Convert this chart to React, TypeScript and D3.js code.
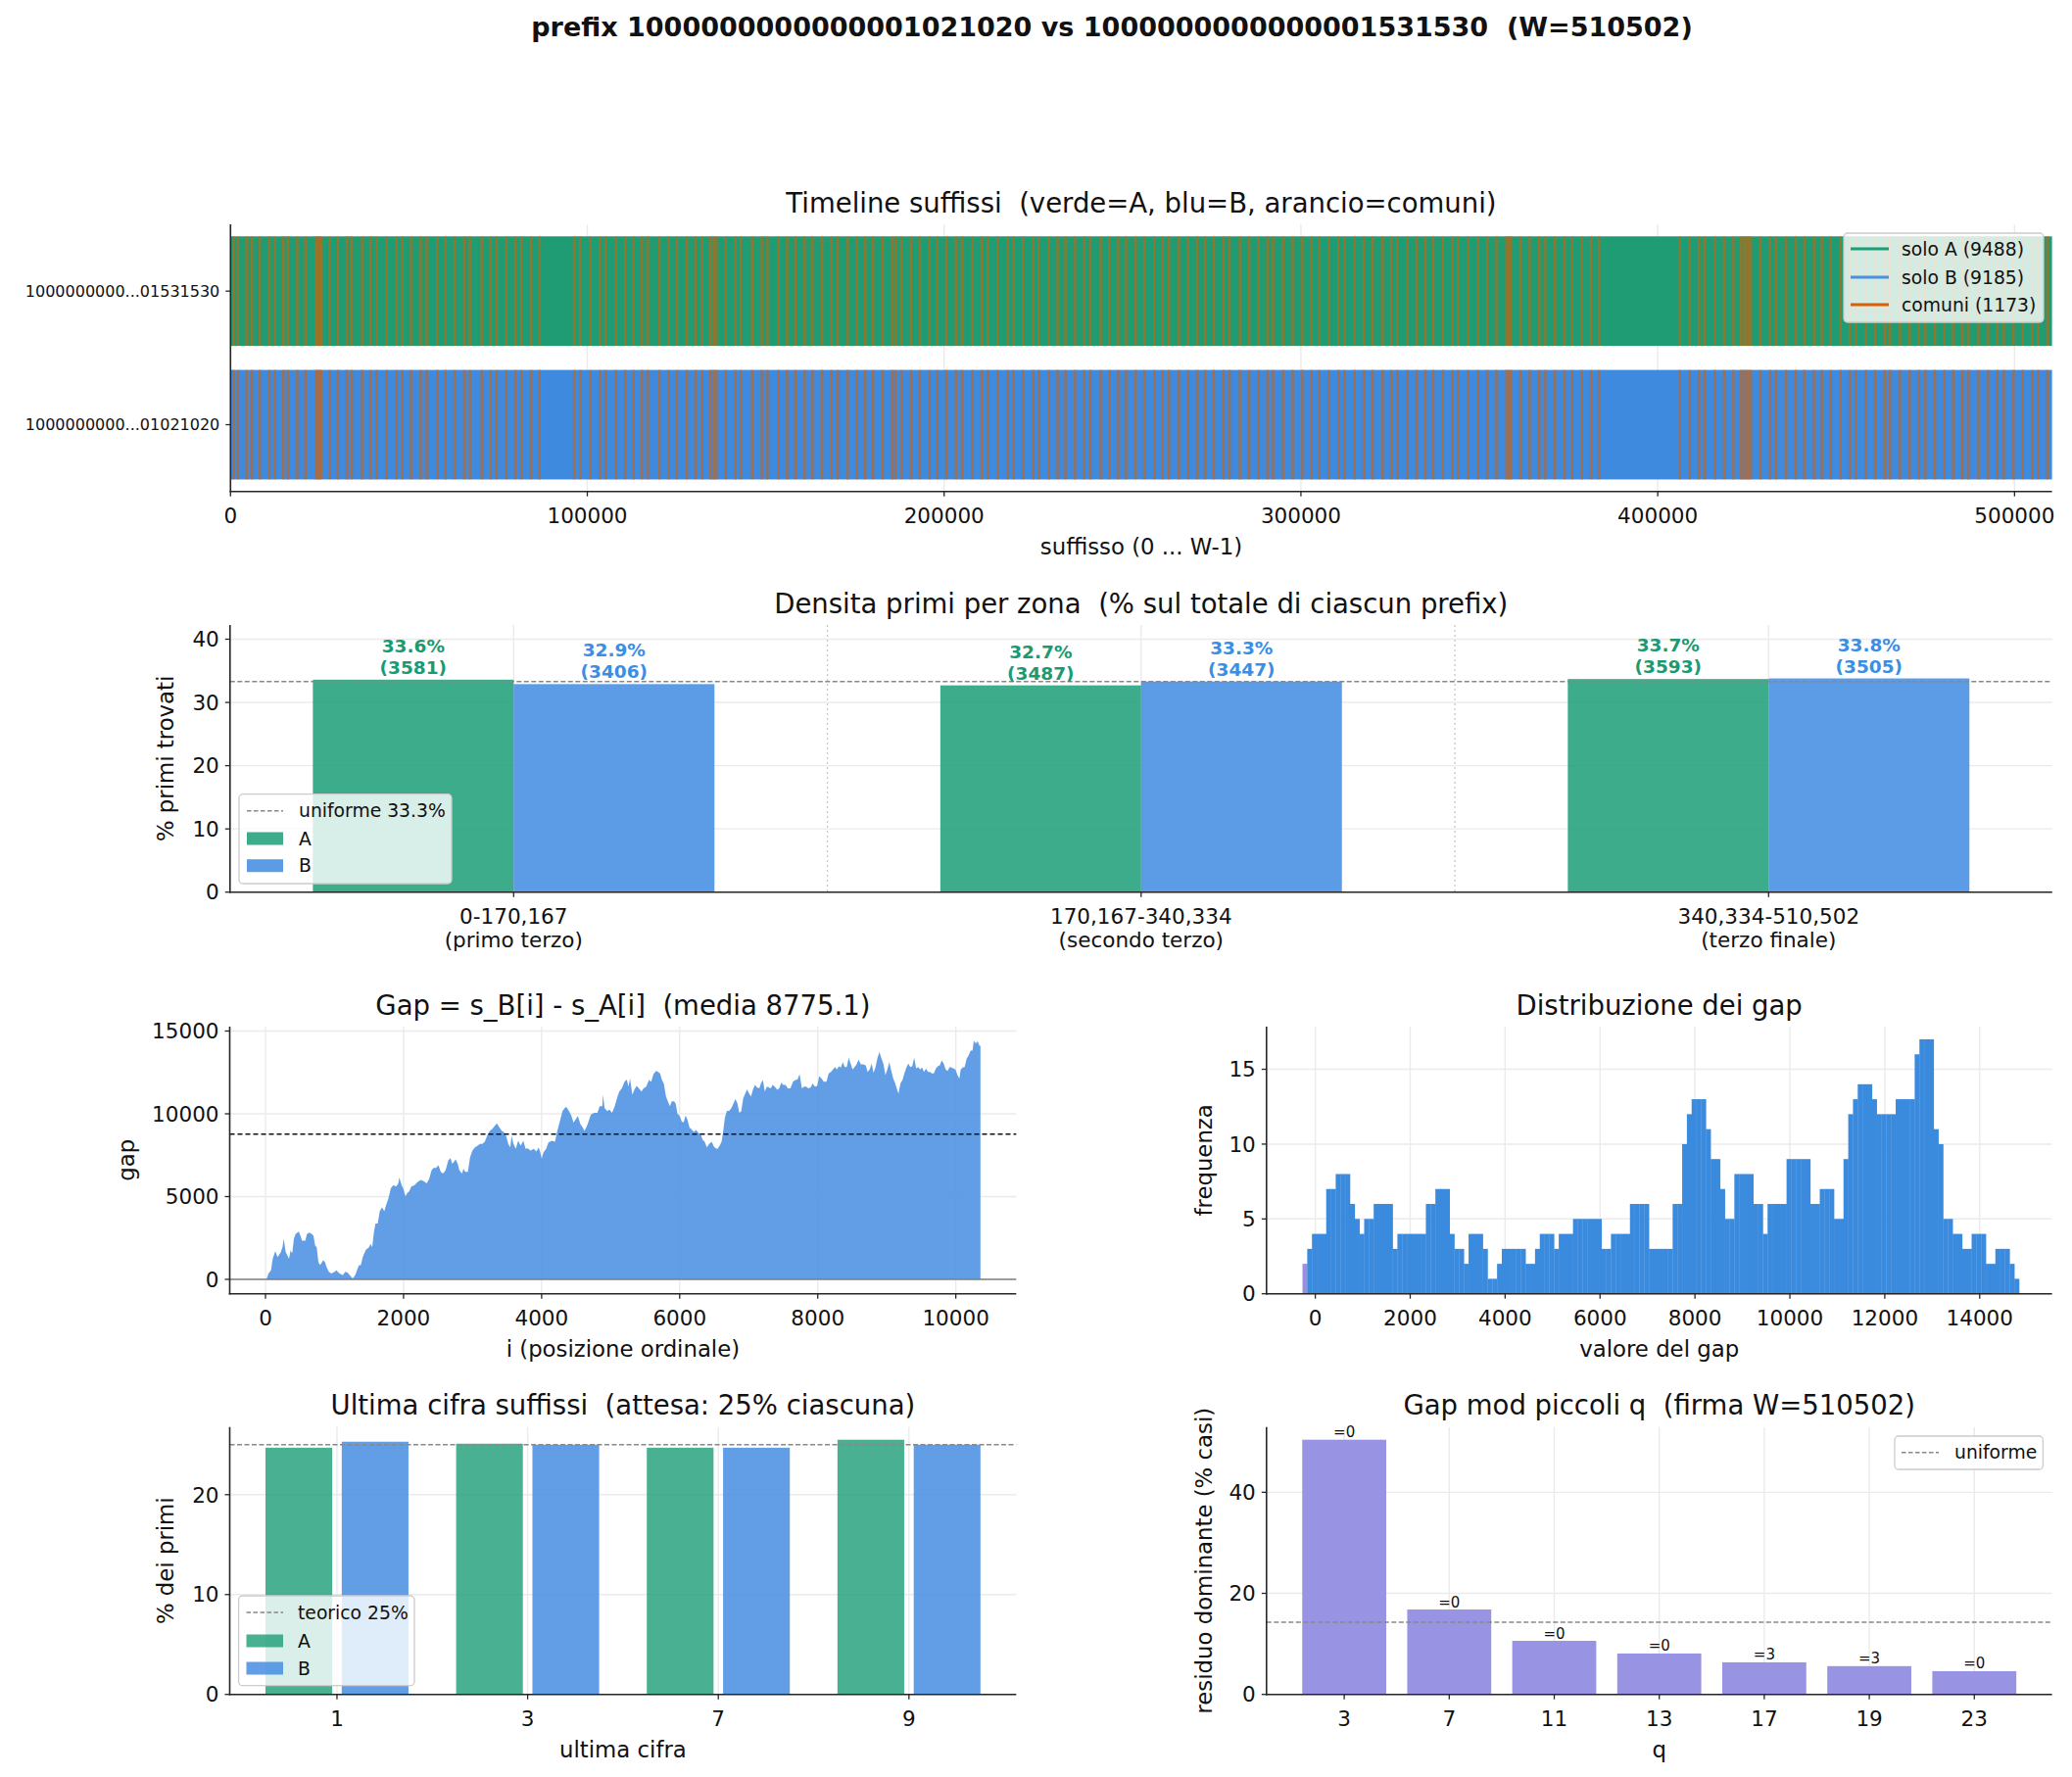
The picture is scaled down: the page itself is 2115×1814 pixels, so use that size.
import React, { useEffect } from 'react';
import * as d3 from 'd3';

if (typeof document !== 'undefined') document.body.style.margin = '0';

const FONT = "'DejaVu Sans', sans-serif";
const INK = '#111111';
const SPINE = '#262626';
const GRID = '#ebebeb';
const GREEN = '#1b9e77';
const BLUE = '#4a90e2';
const ORANGE = '#d95f02';

// ---------------- data ----------------
const suptitle = 'prefix 1000000000000001021020 vs 1000000000000001531530  (W=510502)';
const W = 510502;
const timelineRows = ['1000000000...01021020', '1000000000...01531530'];
const timelineXTicks = [0, 100000, 200000, 300000, 400000, 500000];
const legendNames = ['solo A', 'solo B', 'comuni'];
const legendCounts = [9488, 9185, 1173];
// positions (in thousands) of the shared suffixes drawn as orange strokes
const comuniK = [0.8, 2.1, 4.5, 6.0, 8.2, 10.9, 12.5, 14.8, 16.1, 18.7, 21.0, 23.9, 24.4, 24.9, 25.4, 27.8, 30.1, 32.6, 34.0, 36.9, 39.2, 41.0, 43.8, 46.5, 48.1, 50.6, 53.3, 55.0, 57.9, 60.2, 62.8, 65.5, 67.1, 70.4, 72.9, 74.6, 77.3, 79.8, 81.5, 84.2, 86.6, 96.3, 98.0, 100.8, 103.5, 105.1, 108.0, 110.6, 112.9, 115.3, 117.0, 120.2, 122.8, 125.1, 127.9, 130.3, 132.2, 134.5, 135.4, 136.2, 138.8, 141.5, 143.0, 146.2, 148.9, 150.5, 153.6, 156.0, 158.3, 160.9, 163.1, 165.8, 168.4, 170.2, 173.0, 175.6, 177.9, 180.1, 182.8, 185.4, 186.3, 188.0, 190.7, 193.2, 195.9, 198.1, 200.6, 203.3, 205.0, 207.9, 210.5, 212.2, 215.0, 217.8, 219.4, 222.1, 224.9, 226.5, 229.3, 231.8, 234.0, 236.7, 239.2, 241.0, 243.9, 246.3, 248.8, 251.0, 253.7, 256.1, 258.9, 261.2, 263.0, 265.8, 268.4, 270.9, 273.1, 275.6, 278.3, 280.0, 282.9, 285.5, 288.1, 290.6, 292.2, 295.0, 297.7, 300.4, 302.9, 305.1, 307.8, 310.5, 312.2, 315.0, 317.6, 320.1, 322.9, 325.3, 327.0, 329.8, 332.4, 334.9, 337.1, 339.8, 342.5, 344.0, 346.9, 349.6, 352.2, 354.8, 357.6, 358.2, 358.9, 361.5, 364.1, 366.8, 368.5, 371.2, 373.9, 376.0, 378.7, 381.3, 383.5, 406.2, 408.9, 411.5, 413.1, 416.0, 418.6, 421.2, 423.3, 424.0, 424.7, 425.4, 426.1, 428.8, 431.5, 433.2, 436.0, 438.7, 441.1, 443.8, 446.0, 448.5, 451.2, 453.8, 455.5, 458.3, 460.9, 463.6, 465.1, 467.9, 470.6, 473.2, 475.0, 477.7, 480.3, 482.8, 485.4, 487.1, 489.9, 492.6, 495.2, 497.0, 499.7, 502.3, 504.9, 506.6, 509.2];

const zoneRanges = ['0-170,167', '170,167-340,334', '340,334-510,502'];
const zoneNames = ['(primo terzo)', '(secondo terzo)', '(terzo finale)'];
const densA = [33.6, 32.7, 33.7];
const densAcount = [3581, 3487, 3593];
const densB = [32.9, 33.3, 33.8];
const densBcount = [3406, 3447, 3505];
const densUniform = 33.3;
const densYTicks = [0, 10, 20, 30, 40];

const gapMean = 8775.1;
const gapXTicks = [0, 2000, 4000, 6000, 8000, 10000];
const gapYTicks = [0, 5000, 10000, 15000];
const gapSeries: [number, number][] = [[14,0],[43,356],[80,554],[104,1247],[142,1703],[175,1346],[222,1643],[246,1940],[265,2435],[293,1643],[317,1445],[340,1247],[364,1742],[388,1584],[411,2435],[435,2732],[482,2891],[506,2633],[530,2336],[577,2336],[600,2732],[634,2831],[671,2732],[695,2633],[719,2039],[742,1940],[766,1049],[790,851],[837,1148],[861,1049],[884,752],[917,455],[955,356],[1002,455],[1026,554],[1073,356],[1121,257],[1154,455],[1191,396],[1239,158],[1262,59],[1286,158],[1310,356],[1333,653],[1357,851],[1381,851],[1409,1346],[1452,1782],[1499,1940],[1522,2138],[1546,1940],[1570,2831],[1593,3366],[1626,3366],[1655,4118],[1688,4356],[1721,4118],[1749,4514],[1782,4910],[1816,5504],[1853,5702],[1891,5603],[1924,5801],[1938,6158],[1972,5702],[1995,5504],[2028,5009],[2052,5207],[2080,5306],[2113,5603],[2161,5702],[2208,5900],[2255,5999],[2303,5900],[2336,5801],[2373,6098],[2407,6593],[2435,6732],[2468,6732],[2506,6890],[2539,6494],[2572,6395],[2610,6593],[2648,7187],[2681,7326],[2704,6989],[2728,7088],[2752,7247],[2785,6989],[2808,6593],[2846,6395],[2870,6692],[2893,6494],[2931,6494],[2964,7385],[2998,7781],[3035,7979],[3073,8078],[3106,8177],[3139,8177],[3177,8316],[3210,8672],[3248,8969],[3281,9068],[3319,9266],[3352,9425],[3390,9167],[3423,8969],[3451,8910],[3485,8672],[3518,8177],[3546,7979],[3565,8672],[3593,8177],[3626,7880],[3660,8375],[3697,8078],[3735,8375],[3768,7880],[3801,7920],[3839,7781],[3886,7880],[3924,7722],[3957,7979],[3981,7682],[4000,7286],[4028,7682],[4066,7880],[4099,8276],[4146,8375],[4194,8316],[4227,8969],[4265,9563],[4302,10157],[4336,10355],[4359,10415],[4397,10157],[4430,9900],[4463,9464],[4492,9662],[4525,9860],[4563,9365],[4596,9167],[4619,8969],[4657,9266],[4681,9563],[4714,9959],[4761,10058],[4808,10058],[4841,10454],[4879,10454],[4889,11147],[4912,10355],[4950,10157],[4983,10256],[5021,10058],[5059,10454],[5092,10949],[5125,11345],[5163,11543],[5201,11939],[5234,12078],[5258,11642],[5281,12137],[5314,11147],[5343,11444],[5376,11682],[5409,11543],[5447,11345],[5478,11543],[5516,11642],[5554,12038],[5587,11939],[5620,12395],[5658,12593],[5687,12533],[5715,12434],[5744,12038],[5772,11801],[5801,11048],[5829,10751],[5858,10454],[5886,10751],[5919,10751],[5943,10613],[5967,10019],[6000,9860],[6028,9563],[6057,9464],[6085,9900],[6114,9623],[6142,9167],[6171,9068],[6204,8910],[6237,9029],[6275,8831],[6304,8771],[6332,8435],[6361,8316],[6394,7979],[6427,8177],[6465,8316],[6493,8039],[6522,7920],[6550,7880],[6579,8078],[6607,8316],[6631,8969],[6655,9761],[6683,10157],[6721,10197],[6750,10355],[6778,10613],[6807,10890],[6835,10652],[6864,10058],[6892,10157],[6921,10949],[6949,11207],[6977,11484],[7006,11207],[7034,11048],[7063,11484],[7091,11741],[7120,11603],[7153,11543],[7177,11840],[7205,12038],[7234,11345],[7262,11642],[7291,11603],[7319,11543],[7348,11741],[7376,11642],[7414,11444],[7442,11543],[7471,11880],[7499,11741],[7533,11741],[7566,11543],[7604,11543],[7642,11939],[7675,12038],[7708,12078],[7737,12395],[7770,11543],[7803,11642],[7832,11642],[7865,11543],[7898,11603],[7926,11840],[7960,11642],[7993,11682],[8021,12276],[8055,12137],[8088,11939],[8126,11939],[8159,12434],[8192,12533],[8221,12672],[8249,12830],[8278,12672],[8306,12870],[8335,12790],[8363,13127],[8391,12830],[8420,12830],[8448,13385],[8477,13028],[8505,12672],[8534,12830],[8562,12988],[8591,13264],[8624,12988],[8657,12988],[8695,12929],[8723,12533],[8752,12672],[8781,13028],[8809,12474],[8837,12830],[8866,13385],[8894,13721],[8923,13325],[8951,13028],[8980,12335],[9008,12672],[9037,13127],[9065,12593],[9094,12137],[9122,11840],[9151,11444],[9170,11207],[9198,11840],[9227,12038],[9255,12434],[9284,12790],[9312,13028],[9341,12830],[9369,12870],[9397,13385],[9426,12731],[9454,12830],[9483,12672],[9511,12790],[9540,12533],[9568,12731],[9597,12533],[9625,12533],[9654,12434],[9682,12434],[9711,12731],[9739,12870],[9768,12929],[9796,13226],[9825,13028],[9853,12672],[9882,12593],[9910,12830],[9938,12790],[9967,12731],[9995,12672],[10024,12335],[10052,12137],[10071,12672],[10100,12790],[10128,12830],[10157,13325],[10185,13523],[10214,13820],[10242,13820],[10261,14414],[10290,14256],[10318,14375],[10342,14117],[10357,14117]];

const histStart = -270;
const histStep = 100;
const histCounts = [2,3,4,4,4,7,7,8,8,8,6,5,4,5,5,6,6,6,6,3,4,4,4,4,4,4,6,6,7,7,7,4,3,3,2,4,4,4,3,1,1,2,3,3,3,3,3,2,2,3,4,4,4,3,4,4,4,5,5,5,5,5,5,3,3,4,4,4,4,6,6,6,6,3,3,3,3,3,6,6,10,12,13,13,13,11,9,9,7,5,5,8,8,8,8,6,6,4,6,6,6,6,9,9,9,9,9,6,6,7,7,7,5,5,9,12,13,14,14,14,13,12,12,12,12,13,13,13,13,16,17,17,17,11,10,5,5,4,4,3,3,4,4,4,2,2,3,3,3,2,1];
const histXTicks = [0, 2000, 4000, 6000, 8000, 10000, 12000, 14000];
const histYTicks = [0, 5, 10, 15];

const digits = ['1', '3', '7', '9'];
const digA = [24.7, 25.1, 24.7, 25.5];
const digB = [25.3, 25.0, 24.7, 25.0];
const digExpected = 25;
const digYTicks = [0, 10, 20];

const qs = [3, 7, 11, 13, 17, 19, 23];
const qPct = [50.4, 16.8, 10.6, 8.1, 6.35, 5.6, 4.6];
const qRes = [0, 0, 0, 0, 3, 3, 0];
const qUniform = 100 / 7;
const qYTicks = [0, 20, 40];

// ---------------- helpers ----------------
type Box = { x0: number; x1: number; y0: number; y1: number };
const TICK_FS = 21.5;
const LABEL_FS = 22.8;
const TITLE_FS = 27.5;

function Grid({ b, gx = [], gy = [] }: { b: Box; gx?: number[]; gy?: number[] }) {
  return (
    <g>
      {gx.map((px, i) => (
        <line key={'gx' + i} x1={px} x2={px} y1={b.y0} y2={b.y1} stroke={GRID} strokeWidth={1.4} />
      ))}
      {gy.map((py, i) => (
        <line key={'gy' + i} x1={b.x0} x2={b.x1} y1={py} y2={py} stroke={GRID} strokeWidth={1.4} />
      ))}
    </g>
  );
}

function Frame({
  b, xt, yt, title, xlabel, ylabel, ylabelX, ytFs = TICK_FS,
}: {
  b: Box; xt: { px: number; lines: string[] }[]; yt: { py: number; label: string }[];
  title: string; xlabel?: string; ylabel?: string; ylabelX?: number; ytFs?: number;
}) {
  const cy = (b.y0 + b.y1) / 2;
  return (
    <g fontFamily={FONT} fill={INK}>
      <line x1={b.x0} x2={b.x0} y1={b.y0} y2={b.y1 + 0.8} stroke={SPINE} strokeWidth={1.6} />
      <line x1={b.x0 - 0.8} x2={b.x1} y1={b.y1} y2={b.y1} stroke={SPINE} strokeWidth={1.6} />
      {xt.map((t, i) => (
        <g key={'xt' + i}>
          <line x1={t.px} x2={t.px} y1={b.y1} y2={b.y1 + 5} stroke={SPINE} strokeWidth={1.3} />
          {t.lines.map((l, j) => (
            <text key={j} x={t.px} y={b.y1 + 32 + j * 24} textAnchor="middle" fontSize={TICK_FS}>{l}</text>
          ))}
        </g>
      ))}
      {yt.map((t, i) => (
        <g key={'yt' + i}>
          <line x1={b.x0 - 5} x2={b.x0} y1={t.py} y2={t.py} stroke={SPINE} strokeWidth={1.3} />
          <text x={b.x0 - 11} y={t.py + ytFs * 0.36} textAnchor="end" fontSize={ytFs}>{t.label}</text>
        </g>
      ))}
      <text x={(b.x0 + b.x1) / 2} y={b.y0 - 12.5} textAnchor="middle" fontSize={TITLE_FS} style={{ whiteSpace: 'pre' }}>{title}</text>
      {xlabel && (
        <text x={(b.x0 + b.x1) / 2} y={b.y1 + 64} textAnchor="middle" fontSize={LABEL_FS} style={{ whiteSpace: 'pre' }}>{xlabel}</text>
      )}
      {ylabel && (
        <text transform={`translate(${ylabelX},${cy}) rotate(-90)`} textAnchor="middle" dominantBaseline="central" fontSize={LABEL_FS}>{ylabel}</text>
      )}
    </g>
  );
}

type LegendItem = { kind: 'line' | 'dash' | 'patch'; color: string; label: string; opacity?: number; width?: number };
function Legend({ x0, y0, x1, y1, rows, items, hx0, hx1, tx, fs = 18.75 }: {
  x0: number; y0: number; x1: number; y1: number; rows: number[]; items: LegendItem[];
  hx0: number; hx1: number; tx: number; fs?: number;
}) {
  return (
    <g fontFamily={FONT}>
      <rect x={x0} y={y0} width={x1 - x0} height={y1 - y0} rx={4} fill="white" fillOpacity={0.8} stroke="#cccccc" strokeWidth={1.3} />
      {items.map((it, i) => (
        <g key={i}>
          {it.kind === 'patch' ? (
            <rect x={hx0} y={rows[i] - 6.5} width={hx1 - hx0} height={13} fill={it.color} fillOpacity={it.opacity ?? 1} />
          ) : (
            <line x1={hx0} x2={hx1} y1={rows[i]} y2={rows[i]} stroke={it.color} strokeWidth={it.width ?? 3}
              strokeDasharray={it.kind === 'dash' ? '4.5,2.5' : undefined} />
          )}
          <text x={tx} y={rows[i] + fs * 0.36} fontSize={fs} fill={INK} style={{ whiteSpace: 'pre' }}>{it.label}</text>
        </g>
      ))}
    </g>
  );
}

// ---------------- panels ----------------
function Timeline() {
  const b: Box = { x0: 235.3, x1: 2094.6, y0: 229, y1: 501.7 };
  const x = d3.scaleLinear().domain([0, W]).range([b.x0, b.x1]);
  const y = d3.scaleLinear().domain([-0.5, 1.5]).range([b.y1, b.y0]);
  const half = 0.41;
  const baseColors = ['#3d8ade', '#1f9c74'];
  return (
    <g>
      <Grid b={b} gx={timelineXTicks.map((t) => x(t))} />
      {timelineRows.map((_, r) => (
        <g key={r}>
          <rect x={x(0)} y={y(r + half)} width={x(W) - x(0)} height={y(r - half) - y(r + half)} fill={baseColors[r]} />
          {comuniK.map((k, i) => (
            <line key={i} x1={x(k * 1000)} x2={x(k * 1000)} y1={y(r + half)} y2={y(r - half)}
              stroke={ORANGE} strokeOpacity={0.62} strokeWidth={2.4} />
          ))}
        </g>
      ))}
      <Frame b={b}
        xt={timelineXTicks.map((t) => ({ px: x(t), lines: [String(t)] }))}
        yt={timelineRows.map((l, r) => ({ py: y(r), label: l }))}
        ytFs={16}
        title="Timeline suffissi  (verde=A, blu=B, arancio=comuni)"
        xlabel="suffisso (0 ... W-1)" />
      <Legend x0={1882} y0={238} x1={2086} y1={329} rows={[254, 283, 311]} hx0={1889} hx1={1928} tx={1941}
        items={[
          { kind: 'line', color: GREEN, label: `${legendNames[0]} (${legendCounts[0]})` },
          { kind: 'line', color: BLUE, label: `${legendNames[1]} (${legendCounts[1]})` },
          { kind: 'line', color: ORANGE, label: `${legendNames[2]} (${legendCounts[2]})` },
        ]} />
    </g>
  );
}

function Density() {
  const b: Box = { x0: 234.8, x1: 2094.8, y0: 638, y1: 910.7 };
  const bw = 0.32;
  const n = zoneRanges.length;
  const span = n - 1 + 2 * bw;
  const x = d3.scaleLinear().domain([-bw - 0.05 * span, n - 1 + bw + 0.05 * span]).range([b.x0, b.x1]);
  const top = (d3.max([...densA, ...densB]) as number) * 1.25;
  const y = d3.scaleLinear().domain([0, top]).range([b.y1, b.y0]);
  const idx = d3.range(n);
  return (
    <g>
      <Grid b={b} gx={idx.map((i) => x(i))} gy={densYTicks.map((t) => y(t))} />
      {idx.slice(0, n - 1).map((i) => (
        <line key={'sep' + i} x1={x(i + 0.5)} x2={x(i + 0.5)} y1={b.y0} y2={b.y1} stroke="#c8c8c8" strokeWidth={1.3} strokeDasharray="2,3" />
      ))}
      {idx.map((i) => (
        <g key={i}>
          <rect x={x(i - bw)} y={y(densA[i])} width={x(i) - x(i - bw)} height={y(0) - y(densA[i])} fill={GREEN} fillOpacity={0.85} />
          <rect x={x(i)} y={y(densB[i])} width={x(i + bw) - x(i)} height={y(0) - y(densB[i])} fill={BLUE} fillOpacity={0.9} />
        </g>
      ))}
      <line x1={b.x0} x2={b.x1} y1={y(densUniform)} y2={y(densUniform)} stroke="#888888" strokeWidth={1.6} strokeDasharray="5,2.5" />
      {idx.map((i) => (
        <g key={'lab' + i} fontFamily={FONT} fontWeight="bold" fontSize={18.5} textAnchor="middle">
          <text x={x(i - bw / 2)} y={y(densA[i]) - 28} fill="#1a9a72">{densA[i].toFixed(1)}%</text>
          <text x={x(i - bw / 2)} y={y(densA[i]) - 6} fill="#1a9a72">({densAcount[i]})</text>
          <text x={x(i + bw / 2)} y={y(densB[i]) - 28} fill="#3a8ee6">{densB[i].toFixed(1)}%</text>
          <text x={x(i + bw / 2)} y={y(densB[i]) - 6} fill="#3a8ee6">({densBcount[i]})</text>
        </g>
      ))}
      <Frame b={b}
        xt={idx.map((i) => ({ px: x(i), lines: [zoneRanges[i], zoneNames[i]] }))}
        yt={densYTicks.map((t) => ({ py: y(t), label: String(t) }))}
        title="Densita primi per zona  (% sul totale di ciascun prefix)"
        ylabel="% primi trovati" ylabelX={169} />
      <Legend x0={244} y0={810.7} x1={461} y1={902} rows={[827.7, 856, 883.7]} hx0={252} hx1={289} tx={305}
        items={[
          { kind: 'dash', color: '#888888', label: `uniforme ${densUniform}%`, width: 1.6 },
          { kind: 'patch', color: GREEN, label: 'A', opacity: 0.85 },
          { kind: 'patch', color: BLUE, label: 'B', opacity: 0.9 },
        ]} />
    </g>
  );
}

function GapPanel() {
  const b: Box = { x0: 234.5, x1: 1037.3, y0: 1048, y1: 1320.7 };
  const x = d3.scaleLinear().domain([-518, 10875]).range([b.x0, b.x1]);
  const y = d3.scaleLinear().domain([-870, 15266]).range([b.y1, b.y0]);
  const area = d3.area<[number, number]>().x((d) => x(d[0])).y0(y(0)).y1((d) => y(d[1]));
  return (
    <g>
      <Grid b={b} gx={gapXTicks.map((t) => x(t))} gy={gapYTicks.map((t) => y(t))} />
      <path d={area(gapSeries) as string} fill={BLUE} fillOpacity={0.87} />
      <line x1={b.x0} x2={b.x1} y1={y(0)} y2={y(0)} stroke="#808080" strokeWidth={1.3} />
      <line x1={b.x0} x2={b.x1} y1={y(gapMean)} y2={y(gapMean)} stroke="#111" strokeWidth={1.6} strokeDasharray="5,3" />
      <Frame b={b}
        xt={gapXTicks.map((t) => ({ px: x(t), lines: [String(t)] }))}
        yt={gapYTicks.map((t) => ({ py: y(t), label: String(t) }))}
        title={`Gap = s_B[i] - s_A[i]  (media ${gapMean})`}
        xlabel="i (posizione ordinale)" ylabel="gap" ylabelX={129} />
    </g>
  );
}

function HistPanel() {
  const b: Box = { x0: 1292.8, x1: 2094.6, y0: 1048, y1: 1320.7 };
  const x = d3.scaleLinear().domain([-1028, 15524]).range([b.x0, b.x1]);
  const top = (d3.max(histCounts) as number) * 1.05;
  const y = d3.scaleLinear().domain([0, top]).range([b.y1, b.y0]);
  return (
    <g>
      <Grid b={b} gx={histXTicks.map((t) => x(t))} gy={histYTicks.map((t) => y(t))} />
      {histCounts.map((c, k) => {
        const lo = histStart + k * histStep;
        const hi = lo + histStep;
        return (
          <rect key={k} x={x(lo)} y={y(c)} width={x(hi) - x(lo) + 0.3} height={y(0) - y(c)}
            fill={hi <= -100 ? '#9a8ee0' : '#3a8ade'} />
        );
      })}
      <Frame b={b}
        xt={histXTicks.map((t) => ({ px: x(t), lines: [String(t)] }))}
        yt={histYTicks.map((t) => ({ py: y(t), label: String(t) }))}
        title="Distribuzione dei gap"
        xlabel="valore del gap" ylabel="frequenza" ylabelX={1229} />
    </g>
  );
}

function DigitPanel() {
  const b: Box = { x0: 234.5, x1: 1037.3, y0: 1456.7, y1: 1729.7 };
  const n = digits.length;
  const off = 0.2, bw = 0.35;
  const span = n - 1 + 2 * (off + bw / 2);
  const x = d3.scaleLinear().domain([-(off + bw / 2) - 0.05 * span, n - 1 + off + bw / 2 + 0.05 * span]).range([b.x0, b.x1]);
  const top = (d3.max([...digA, ...digB]) as number) * 1.05;
  const y = d3.scaleLinear().domain([0, top]).range([b.y1, b.y0]);
  const idx = d3.range(n);
  return (
    <g>
      <Grid b={b} gx={idx.map((i) => x(i))} gy={digYTicks.map((t) => y(t))} />
      {idx.map((i) => (
        <g key={i}>
          <rect x={x(i - off - bw / 2)} y={y(digA[i])} width={x(bw) - x(0)} height={y(0) - y(digA[i])} fill={GREEN} fillOpacity={0.8} />
          <rect x={x(i + off - bw / 2)} y={y(digB[i])} width={x(bw) - x(0)} height={y(0) - y(digB[i])} fill={BLUE} fillOpacity={0.87} />
        </g>
      ))}
      <line x1={b.x0} x2={b.x1} y1={y(digExpected)} y2={y(digExpected)} stroke="#888888" strokeWidth={1.6} strokeDasharray="5,2.5" />
      <Frame b={b}
        xt={idx.map((i) => ({ px: x(i), lines: [digits[i]] }))}
        yt={digYTicks.map((t) => ({ py: y(t), label: String(t) }))}
        title="Ultima cifra suffissi  (attesa: 25% ciascuna)"
        xlabel="ultima cifra" ylabel="% dei primi" ylabelX={168.5} />
      <Legend x0={243.6} y0={1629} x1={423} y1={1720.7} rows={[1646, 1675, 1703]} hx0={251.5} hx1={289} tx={304}
        items={[
          { kind: 'dash', color: '#888888', label: `teorico ${digExpected}%`, width: 1.6 },
          { kind: 'patch', color: GREEN, label: 'A', opacity: 0.8 },
          { kind: 'patch', color: BLUE, label: 'B', opacity: 0.87 },
        ]} />
    </g>
  );
}

function ModPanel() {
  const b: Box = { x0: 1292.8, x1: 2094.6, y0: 1456.7, y1: 1729.7 };
  const n = qs.length;
  const bw = 0.8;
  const span = n - 1 + bw;
  const x = d3.scaleLinear().domain([-bw / 2 - 0.05 * span, n - 1 + bw / 2 + 0.05 * span]).range([b.x0, b.x1]);
  const top = (d3.max(qPct) as number) * 1.05;
  const y = d3.scaleLinear().domain([0, top]).range([b.y1, b.y0]);
  const idx = d3.range(n);
  return (
    <g>
      <Grid b={b} gx={idx.map((i) => x(i))} gy={qYTicks.map((t) => y(t))} />
      {idx.map((i) => (
        <rect key={i} x={x(i - bw / 2)} y={y(qPct[i])} width={x(bw) - x(0)} height={y(0) - y(qPct[i])} fill="#9893e2" />
      ))}
      <line x1={b.x0} x2={b.x1} y1={y(qUniform)} y2={y(qUniform)} stroke="#888888" strokeWidth={1.6} strokeDasharray="5,2.5" />
      {idx.map((i) => (
        <text key={'l' + i} x={x(i)} y={y(qPct[i]) - 2.5} textAnchor="middle" fontFamily={FONT} fontSize={15} fill={INK}>={qRes[i]}</text>
      ))}
      <Frame b={b}
        xt={idx.map((i) => ({ px: x(i), lines: [String(qs[i])] }))}
        yt={qYTicks.map((t) => ({ py: y(t), label: String(t) }))}
        title="Gap mod piccoli q  (firma W=510502)"
        xlabel="q" ylabel="residuo dominante (% casi)" ylabelX={1229} />
      <Legend x0={1934} y0={1466} x1={2085.4} y1={1500} rows={[1482.7]} hx0={1941} hx1={1979} tx={1995}
        items={[{ kind: 'dash', color: '#888888', label: 'uniforme', width: 1.6 }]} />
    </g>
  );
}

export default function App() {
  useEffect(() => {
    document.body.style.margin = '0';
  }, []);
  return (
    <svg width={2115} height={1814} viewBox="0 0 2115 1814" style={{ display: 'block' }} xmlns="http://www.w3.org/2000/svg">
      <rect x={0} y={0} width={2115} height={1814} fill="white" />
      <text x={1135} y={37} textAnchor="middle" fontFamily={FONT} fontWeight="bold" fontSize={27} fill={INK} style={{ whiteSpace: 'pre' }}>{suptitle}</text>
      <Timeline />
      <Density />
      <GapPanel />
      <HistPanel />
      <DigitPanel />
      <ModPanel />
    </svg>
  );
}
